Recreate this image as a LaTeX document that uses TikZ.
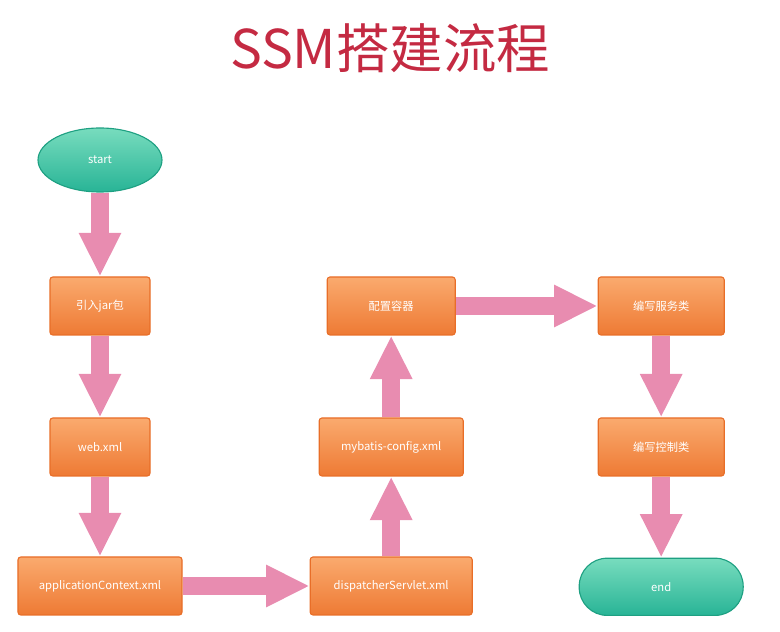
\documentclass[tikz,border=0pt]{standalone}
\usepackage{fontspec}
\setmainfont{Noto Sans CJK SC}
\usetikzlibrary{arrows.meta,shapes.geometric}

\definecolor{titlered}{RGB}{196,42,66}
\definecolor{boxtop}{RGB}{250,170,110}
\definecolor{boxbot}{RGB}{238,122,52}
\definecolor{boxline}{RGB}{232,110,40}
\definecolor{tealtop}{RGB}{120,220,190}
\definecolor{tealbot}{RGB}{40,180,150}
\definecolor{tealline}{RGB}{30,160,130}
\definecolor{arrowpink}{RGB}{232,140,176}

\tikzset{
  stepbox/.style={draw=boxline, line width=0.8pt, top color=boxtop, bottom color=boxbot,
    rounded corners=2pt, minimum width=2.5cm, minimum height=1.45cm, inner sep=0pt,
    text=white, font=\fontsize{8}{10}\selectfont},
  terminal/.style={draw=tealline, line width=0.8pt, top color=tealtop, bottom color=tealbot,
    inner sep=0pt, text=white, font=\fontsize{8}{10}\selectfont},
  flow/.style={draw=arrowpink, line width=12.5pt,
    -{Triangle[width=28pt,length=31pt]}}
}

\begin{document}
\begin{tikzpicture}
\useasboundingbox (0,0) rectangle (19.5,-15.8);
% title
\node[text=titlered, font=\fontsize{38}{42}\selectfont] (title) at (9.75,-1.2) {SSM搭建流程};
% left column
\node[terminal, ellipse, minimum width=3.1cm, minimum height=1.6cm] (start) at (2.5,-4.0) {start};
\node[stepbox] (jar) at (2.5,-7.65) {引入jar包};
\node[stepbox] (web) at (2.5,-11.175) {web.xml};
\node[stepbox, minimum width=4.1cm] (app) at (2.5,-14.65) {applicationContext.xml};
% middle column
\node[stepbox, minimum width=4.05cm] (disp) at (9.78,-14.65) {dispatcherServlet.xml};
\node[stepbox, minimum width=3.6cm] (mybatis) at (9.78,-11.175) {mybatis-config.xml};
\node[stepbox, minimum width=3.2cm] (config) at (9.78,-7.65) {配置容器};
% right column
\node[stepbox, minimum width=3.15cm] (service) at (16.53,-7.65) {编写服务类};
\node[stepbox, minimum width=3.15cm] (control) at (16.53,-11.175) {编写控制类};
\node[terminal, rectangle, rounded corners=0.7cm, minimum width=4.1cm, minimum height=1.43cm] (end) at (16.53,-14.67) {end};
% connectors
\draw[flow] (start) -- (jar);
\draw[flow] (jar) -- (web);
\draw[flow] (web) -- (app);
\draw[flow] (app) -- (disp);
\draw[flow] (disp) -- (mybatis);
\draw[flow] (mybatis) -- (config);
\draw[flow] (config) -- (service);
\draw[flow] (service) -- (control);
\draw[flow] (control) -- (end);
\end{tikzpicture}
\end{document}
